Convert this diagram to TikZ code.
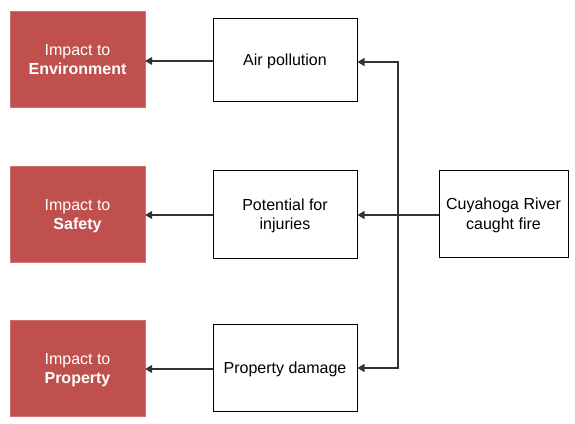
\documentclass[tikz,border=0pt]{standalone}
\usepackage{fontspec}
\setmainfont{Liberation Sans}
\usetikzlibrary{arrows.meta}
\definecolor{impred}{HTML}{C0504D}
\definecolor{impborder}{HTML}{D27270}
\definecolor{linegray}{HTML}{333333}
\begin{document}
\begin{tikzpicture}[x=1pt,y=-1pt,
  impact/.style={draw=impborder,fill=impred,text=white,minimum width=135pt,minimum height=96pt,align=center,font=\fontsize{16}{19.5}\selectfont,inner sep=0pt,text depth=0pt},
  effect/.style={draw=black,line width=1pt,fill=white,minimum width=144pt,minimum height=86pt,align=center,font=\fontsize{16}{19.5}\selectfont,inner sep=0pt,text depth=0pt},
  conn/.style={draw=linegray,line width=1.2pt,-{Triangle[length=7pt,width=8pt]}}]
\useasboundingbox (0,0) rectangle (575,423);
\node[impact] (env) at (77.5,59.5) {Impact to\\\textbf{Environment}};
\node[impact] (saf) at (77.5,214.5) {Impact to\\\textbf{Safety}};
\node[impact] (pro) at (77.5,368.5) {Impact to\\\textbf{Property}};
\node[effect, minimum height=83pt] (air) at (285,60) {Air pollution};
\node[effect, minimum height=88pt] (inj) at (285,214) {Potential for\\injuries};
\node[effect, minimum height=87pt] (dam) at (285,367.5) {Property damage};
\node[draw=black,line width=1pt,minimum width=129pt,minimum height=87pt,align=center,font=\fontsize{16}{19.5}\selectfont,inner sep=0pt,text depth=0pt] (cuy) at (503.5,213.5) {Cuyahoga River\\caught fire};
\coordinate (split) at (398,215);
\draw[conn] (cuy.west |- split) -- (inj.east |- split);
\draw[conn] (split) |- (air.east |- 0,62);
\draw[conn] (split) |- (dam.east |- 0,368);
\draw[conn] (air.west |- 0,61) -- (env.east |- 0,61);
\draw[conn] (inj.west |- 0,215) -- (saf.east |- 0,215);
\draw[conn] (dam.west |- 0,369) -- (pro.east |- 0,369);
\end{tikzpicture}
\end{document}
